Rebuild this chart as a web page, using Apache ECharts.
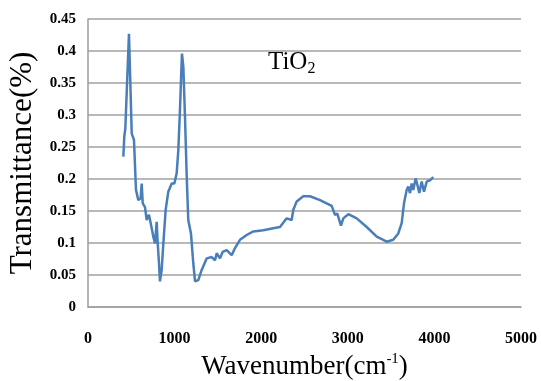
<!DOCTYPE html>
<html>
<head>
<meta charset="utf-8">
<script src="https://cdn.jsdelivr.net/npm/echarts@6/dist/echarts.min.js"></script>
<style>
  html, body { margin: 0; padding: 0; background: #fff; }
  #chart { width: 541px; height: 381px; }
</style>
</head>
<body>
<div id="chart"></div>
<script>
// values
const wavenumber = [408, 419, 431, 473, 505, 531, 554, 581, 608, 620, 632, 658, 678, 704, 724, 754, 774, 793, 805, 820,
  831, 851, 870, 897, 927, 967, 997, 1024, 1043, 1062, 1085, 1101, 1120, 1140, 1158, 1189, 1216, 1236, 1274, 1313,
  1371, 1428, 1467, 1486, 1524, 1555, 1601, 1659, 1697, 1755, 1832, 1909, 2024, 2140, 2217, 2294, 2352, 2371, 2410, 2486,
  2564, 2679, 2814, 2852, 2879, 2921, 2948, 3006, 3103, 3218, 3334, 3449, 3525, 3583, 3622, 3649, 3680, 3699, 3718, 3738,
  3756, 3784, 3803, 3826, 3853, 3880, 3911, 3949, 3987];
const transmittance = [0.235, 0.266, 0.279, 0.427, 0.271, 0.261, 0.183, 0.167, 0.170, 0.193, 0.162, 0.156, 0.136, 0.144, 0.131, 0.110, 0.0995, 0.133, 0.0995, 0.068,
  0.040, 0.058, 0.0995, 0.152, 0.180, 0.193, 0.193, 0.209, 0.245, 0.308, 0.396, 0.375, 0.297, 0.204, 0.136, 0.115, 0.068, 0.040, 0.042, 0.058,
  0.076, 0.078, 0.073, 0.084, 0.076, 0.086, 0.089, 0.081, 0.092, 0.105, 0.1125, 0.118, 0.120, 0.123, 0.125, 0.1385, 0.136, 0.152, 0.165, 0.173,
  0.173, 0.167, 0.158, 0.144, 0.146, 0.127, 0.1385, 0.145, 0.1385, 0.125, 0.110, 0.102, 0.105, 0.115, 0.131, 0.162, 0.183, 0.188, 0.178, 0.193,
  0.183, 0.201, 0.191, 0.178, 0.196, 0.180, 0.196, 0.198, 0.203];

const serif = '"Liberation Serif", "DejaVu Serif", serif';
const chart = echarts.init(document.getElementById('chart'));

chart.setOption({
  animation: false,
  grid: { left: 88, right: 20, top: 19, bottom: 74, outerBoundsMode: 'none' },
  title: {
    text: 'TiO{sub|2}',
    left: 268, top: 47, padding: 0,
    textStyle: {
      fontFamily: serif, fontSize: 25, fontWeight: 'normal', color: '#000',
      rich: { sub: { fontFamily: serif, fontSize: 16, color: '#000', padding: [14, 0, 0, 0] } }
    }
  },
  xAxis: {
    type: 'value', min: 0, max: 5000, interval: 1000,
    name: 'Wavenumber(cm{sup|-1})',
    nameLocation: 'middle', nameGap: 45,
    nameTextStyle: {
      fontFamily: serif, fontSize: 27, color: '#000',
      rich: { sup: { fontFamily: serif, fontSize: 15, color: '#000', padding: [0, 0, 14, 0] } }
    },
    axisLine: { show: true, lineStyle: { color: '#9e9e9e', width: 1.5 } },
    axisTick: { show: false },
    splitLine: { show: false },
    axisLabel: {
      margin: 24, fontFamily: serif, fontSize: 16, fontWeight: 'bold', color: '#000',
      formatter: v => String(v)
    }
  },
  yAxis: {
    type: 'value', min: 0, max: 0.45, interval: 0.05,
    name: 'Transmittance(%)',
    nameLocation: 'middle', nameGap: 49,
    nameTextStyle: { fontFamily: serif, fontSize: 31, color: '#000' },
    axisLine: { show: true, lineStyle: { color: '#9e9e9e', width: 1.5 } },
    axisTick: { show: false },
    splitLine: { lineStyle: { color: '#a0a0a0', width: 1.5 } },
    axisLabel: { margin: 12, fontFamily: serif, fontSize: 15, fontWeight: 'bold', color: '#000' }
  },
  series: [{
    type: 'line',
    data: wavenumber.map((w, i) => [w, transmittance[i]]),
    showSymbol: false,
    lineStyle: { color: '#4a7ebb', width: 2.5 }
  }]
});
</script>
</body>
</html>
